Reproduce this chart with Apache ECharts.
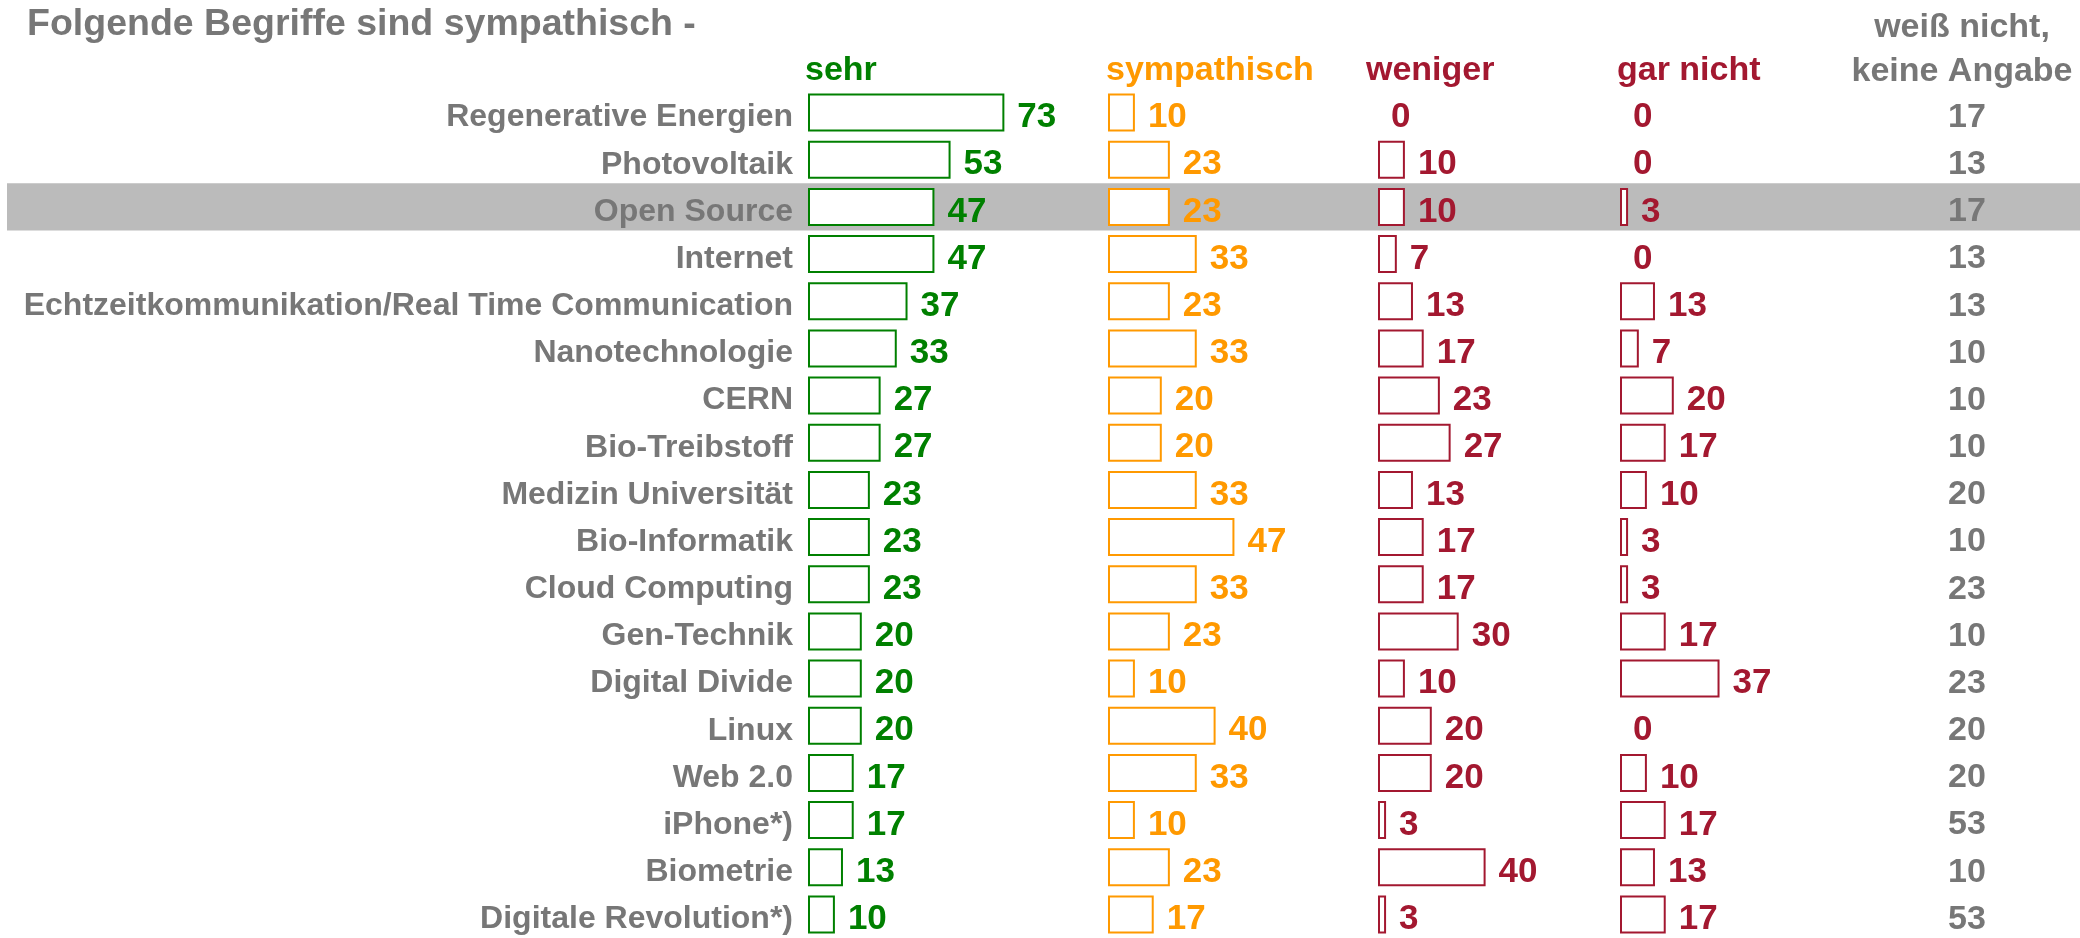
<!DOCTYPE html>
<html><head><meta charset="utf-8">
<script src="https://cdn.jsdelivr.net/npm/echarts@6/dist/echarts.min.js"></script>
<style>html,body{margin:0;padding:0;background:#fff}#c{width:2080px;height:938px}</style>
</head><body><div id="c"></div>
<script>
const categories = ['Regenerative Energien','Photovoltaik','Open Source','Internet','Echtzeitkommunikation/Real Time Communication','Nanotechnologie','CERN','Bio-Treibstoff','Medizin Universität','Bio-Informatik','Cloud Computing','Gen-Technik','Digital Divide','Linux','Web 2.0','iPhone*)','Biometrie','Digitale Revolution*)'];
const sehr        = [73,53,47,47,37,33,27,27,23,23,23,20,20,20,17,17,13,10];
const sympathisch = [10,23,23,33,23,33,20,20,33,47,33,23,10,40,33,10,23,17];
const weniger     = [0,10,10,7,13,17,23,27,13,17,17,30,10,20,20,3,40,3];
const garNicht    = [0,0,3,0,13,7,20,17,10,3,3,17,37,0,10,17,13,17];
const weissNicht  = [17,13,17,13,13,10,10,10,20,10,23,10,23,20,20,53,10,53];
const headers = ['sehr','sympathisch','weniger','gar nicht'];
const lastHeader = 'weiß nicht,\nkeine Angabe';
const titleText = 'Folgende Begriffe sind sympathisch -';
const highlighted = 'Open Source';

const FONT = 'Liberation Sans';
const GRAY = '#777777';
const colors = ['#008000','#FF9900','#A31830','#A31830'];
const barValues = [sehr, sympathisch, weniger, garNicht];
const gridLefts = [808, 1108, 1378, 1620];
const headerLefts = [805, 1106, 1366, 1617];
const TOP = 89, H = 853.4;

const grid = [{left:7, right:0, top:TOP, height:H}];
const xAxis = [{type:'value', min:0, max:1, show:false, gridIndex:0}];
const yAxis = [{type:'category', data:categories, inverse:true, show:false, gridIndex:0}];
gridLefts.forEach((l,i)=>{
  grid.push({left:l, width:269, top:TOP, height:H});
  xAxis.push({type:'value', min:0, max:100, show:false, gridIndex:i+1});
  yAxis.push({type:'category', data:categories, inverse:true, gridIndex:i+1, z:5,
    show: i===0, axisLine:{show:false}, axisTick:{show:false}, splitLine:{show:false},
    axisLabel:{show:i===0, margin:15, color:GRAY, fontSize:32, fontWeight:'bold', fontFamily:FONT, verticalAlign:'top', lineHeight:10}});
});
grid.push({left:1897, width:140, top:TOP, height:H});
xAxis.push({type:'value', min:-1, max:1, show:false, gridIndex:5});
yAxis.push({type:'category', data:categories, inverse:true, show:false, gridIndex:5});

const series = [{
  type:'bar', xAxisIndex:0, yAxisIndex:0, barWidth:'100%', silent:true, z:0,
  itemStyle:{color:'#BBBBBB'},
  data: categories.map(c => c===highlighted ? 1 : 0)
}];
barValues.forEach((vals,i)=>{
  series.push({
    type:'bar', xAxisIndex:i+1, yAxisIndex:i+1, barWidth:38, z:3,
    itemStyle:{color:'#ffffff', borderColor:colors[i], borderWidth:2},
    label:{show:true, position:'right', distance:13, offset:[0,5], color:colors[i], fontSize:35, fontWeight:'bold', fontFamily:FONT},
    data: vals.map(v => v===0 ? {value:v, itemStyle:{borderWidth:0}} : v)
  });
});
series.push({
  type:'scatter', xAxisIndex:5, yAxisIndex:5, symbolSize:0, z:3,
  itemStyle:{color:GRAY, opacity:1},
  label:{show:true, position:'inside', offset:[0,5], color:GRAY, fontSize:34, fontWeight:'bold', fontFamily:FONT,
    formatter: p => String(weissNicht[p.dataIndex])},
  data: weissNicht.map((v,i)=>[0,i])
});

const title = [{text:titleText, left:27, top:5, padding:0,
  textStyle:{color:GRAY, fontSize:37.5, fontWeight:'bold', fontFamily:FONT, lineHeight:40}}];
headers.forEach((h,i)=>{
  title.push({text:h, left:headerLefts[i], top:51, padding:0,
    textStyle:{color:colors[i], fontSize:34, fontWeight:'bold', fontFamily:FONT, lineHeight:40}});
});

const graphic = [{type:'text', x:1962, y:6, z:10,
  style:{text:lastHeader, align:'center', verticalAlign:'top', fill:GRAY, fontSize:34, fontWeight:'bold', fontFamily:FONT, lineHeight:44}}];

const chart = echarts.init(document.getElementById('c'));
chart.setOption({animation:false, backgroundColor:'#fff', title, grid, xAxis, yAxis, series, graphic});
</script></body></html>
